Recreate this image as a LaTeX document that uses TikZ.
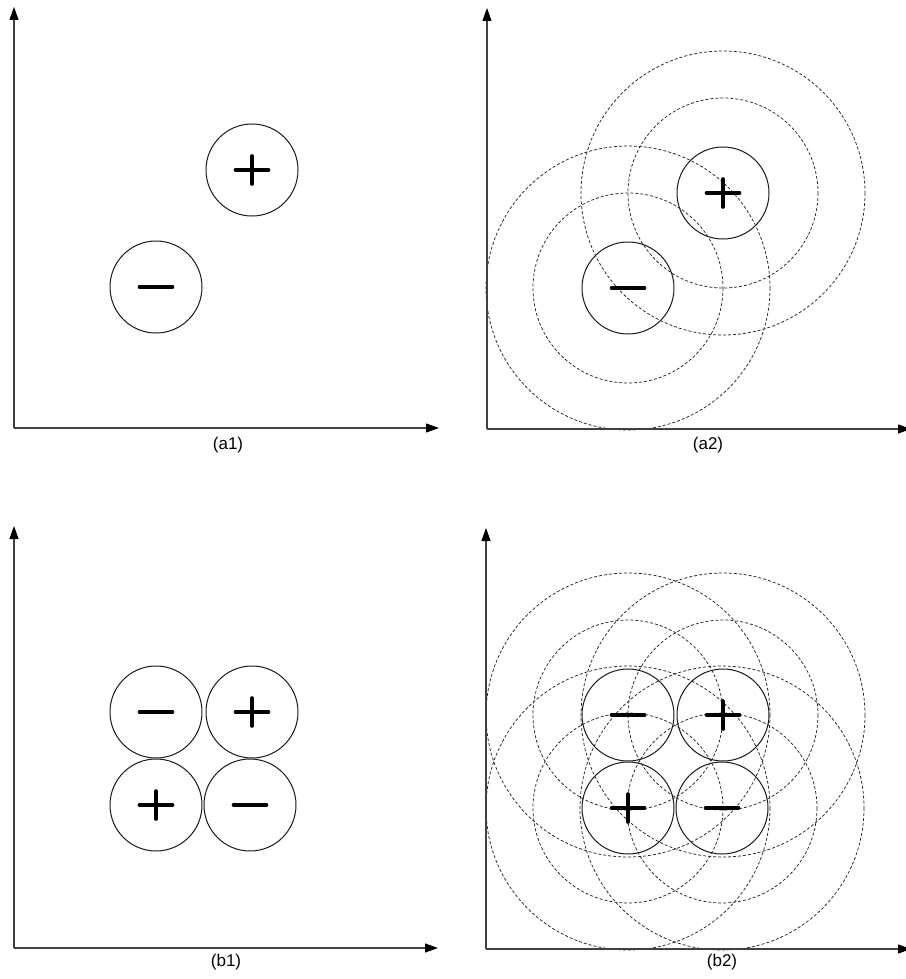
\documentclass[tikz,border=0pt]{standalone}
\usepackage{fontspec}
\setmainfont{Liberation Sans}
\usetikzlibrary{arrows.meta}
\newcommand\PosSign[1]{\draw[sign] (#1.center) ++(-16.5,0) -- ++(33,0) (#1.center) ++(0,-14) -- ++(0,28);}
\newcommand\NegSign[1]{\draw[sign] (#1.center) ++(-16.5,0) -- ++(33,0);}
\newcommand\FieldRings[1]{\draw[field] (#1.center) circle[radius=95] (#1.center) circle[radius=142];}
\begin{document}
\begin{tikzpicture}[x=1pt,y=-1pt,
  charge/.style={circle,draw=black!90,line width=1pt,minimum size=92pt,inner sep=0pt},
  field/.style={draw=black!85,line width=0.75pt,dash pattern=on 3pt off 2pt},
  axis/.style={draw=black!75,line width=1.1pt,-{Triangle[length=13pt,width=9pt,color=black]}},
  sign/.style={line width=3.6pt,line cap=round},
  lbl/.style={font=\fontsize{17}{20}\selectfont,inner sep=0pt}]
\useasboundingbox (0,0) rectangle (905,979);

% ---------- (a1) ----------
\coordinate (oa1) at (14,428);
\coordinate (ya1) at (14,7);
\coordinate (xa1) at (439,428);
\draw[axis] (oa1) -- (ya1);
\draw[axis] (oa1) -- (xa1);
\node[charge] (a1p) at (252,170) {};
\node[charge] (a1m) at (156,287) {};
\PosSign{a1p}
\NegSign{a1m}
\node[lbl] (la1) at (228,445) {(a1)};

% ---------- (a2) ----------
\coordinate (oa2) at (487,429);
\coordinate (ya2) at (487,8);
\coordinate (xa2) at (911,429);
\node[charge] (a2p) at (723,193) {};
\node[charge] (a2m) at (628,288) {};
\FieldRings{a2p}
\FieldRings{a2m}
\draw[axis] (oa2) -- (ya2);
\draw[axis] (oa2) -- (xa2);
\PosSign{a2p}
\NegSign{a2m}
\node[lbl] (la2) at (708,445) {(a2)};

% ---------- (b1) ----------
\coordinate (ob1) at (14,948);
\coordinate (yb1) at (14,526);
\coordinate (xb1) at (438,948);
\draw[axis] (ob1) -- (yb1);
\draw[axis] (ob1) -- (xb1);
\node[charge] (b1tl) at (156,712) {};
\node[charge] (b1tr) at (252,712) {};
\node[charge] (b1bl) at (156,805) {};
\node[charge] (b1br) at (250,805) {};
\NegSign{b1tl}
\PosSign{b1tr}
\PosSign{b1bl}
\NegSign{b1br}
\node[lbl] (lb1) at (226,962) {(b1)};

% ---------- (b2) ----------
\coordinate (ob2) at (486,949);
\coordinate (yb2) at (486,528);
\coordinate (xb2) at (911,949);
\node[charge] (b2tl) at (628,715) {};
\node[charge] (b2tr) at (723,715) {};
\node[charge] (b2bl) at (628,808) {};
\node[charge] (b2br) at (722,808) {};
\FieldRings{b2tl}
\FieldRings{b2tr}
\FieldRings{b2bl}
\FieldRings{b2br}
\draw[axis] (ob2) -- (yb2);
\draw[axis] (ob2) -- (xb2);
\NegSign{b2tl}
\PosSign{b2tr}
\PosSign{b2bl}
\NegSign{b2br}
\node[lbl] (lb2) at (722,962) {(b2)};
\end{tikzpicture}
\end{document}
